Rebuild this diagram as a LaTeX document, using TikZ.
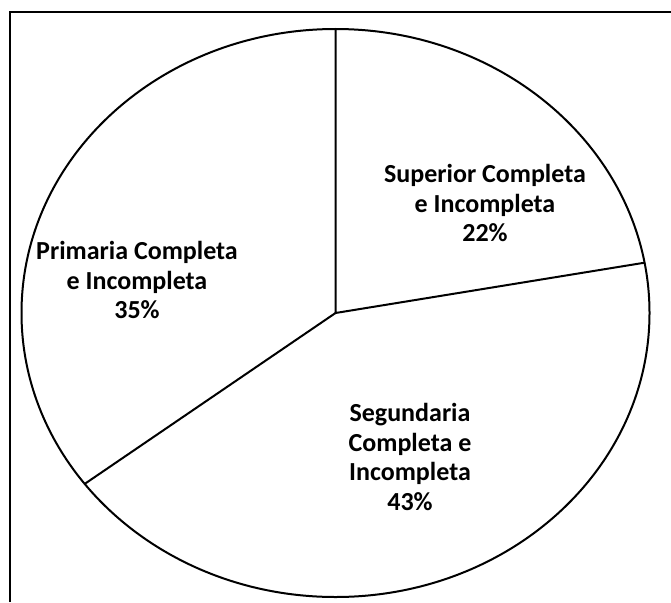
\documentclass[tikz,border=0pt]{standalone}
\usepackage{fontspec}
\setmainfont{Carlito}
\begin{document}
\begin{tikzpicture}[x=1pt,y=-1pt,
  lbl/.style={align=center,font=\bfseries\fontsize{26}{29.5}\selectfont,inner sep=0pt},
  pieline/.style={line width=2pt,black}]
\useasboundingbox (0,0) rectangle (671,602);
\fill[white] (0,0) rectangle (671,602);
\coordinate (fb) at (10,602);
\coordinate (ftl) at (10,12);
\coordinate (ftr) at (671,12);
\draw[line width=2.5pt] (fb) -- (ftl) -- (ftr);
\coordinate (c) at (335.5,313);
\coordinate (ptop) at (335.5,29);
\coordinate (pright) at (644.5,262.7);
\coordinate (pleft) at (84.7,483.9);
\draw[pieline] (c) ellipse [x radius=314, y radius=284];
\draw[pieline] (ptop) -- (c) -- (pright);
\draw[pieline] (c) -- (pleft);
\node[lbl] (sup) at (485,203) {Superior Completa\\e Incompleta\\22\%};
\node[lbl] (pri) at (137,280) {Primaria Completa\\e Incompleta\\35\%};
\node[lbl] (seg) at (410,457) {Segundaria\\Completa e\\Incompleta\\43\%};
\end{tikzpicture}
\end{document}
